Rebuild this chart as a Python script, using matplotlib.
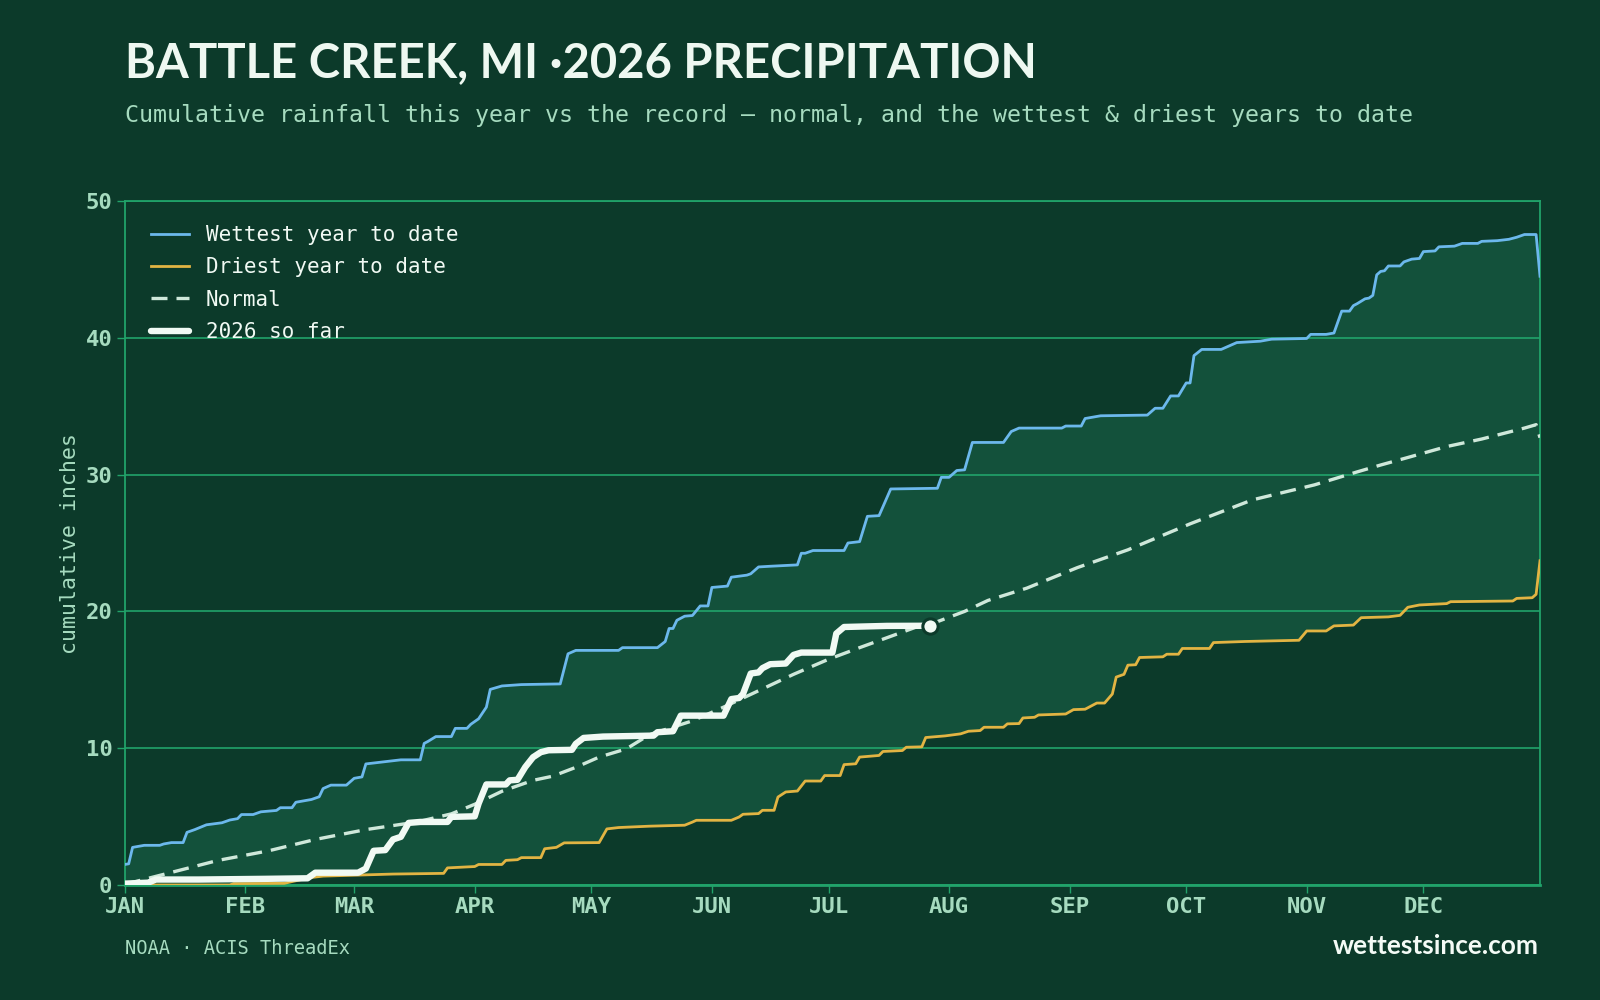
import numpy as np
import matplotlib
matplotlib.use("Agg")
import matplotlib.pyplot as plt

# ---------------- data (day-of-year index, cumulative inches) ----------------
month_labels = ["JAN", "FEB", "MAR", "APR", "MAY", "JUN", "JUL", "AUG", "SEP", "OCT", "NOV", "DEC"]
month_starts = [0, 31, 59, 90, 120, 151, 181, 212, 243, 273, 304, 334]
y_ticks = [0, 10, 20, 30, 40, 50]

wettest_days = [0, 1, 2, 5, 9, 10, 12, 15, 16, 18, 21, 25, 27, 29, 30, 33, 35, 39, 40, 43,
                44, 48, 50, 51, 53, 57, 59, 61, 62, 65, 68, 71, 76, 77, 78, 80, 84, 85, 88, 89,
                91, 93, 94, 97, 102, 112, 114, 116, 127, 128, 137, 139, 140, 141, 142, 144, 146, 148, 150, 151,
                155, 156, 160, 161, 163, 166, 173, 174, 175, 177, 185, 186, 189, 191, 194, 197, 209, 210, 212, 214,
                216, 218, 226, 228, 230, 241, 242, 246, 247, 251, 263, 265, 267, 269, 271, 273, 274, 275, 277, 282,
                286, 292, 295, 304, 305, 309, 311, 313, 315, 316, 317, 319, 320, 321, 322, 323, 324, 325, 328, 329,
                331, 333, 334, 337, 338, 342, 344, 348, 349, 353, 356, 358, 360, 363, 364]
wettest_vals = [1.5, 1.55, 2.75, 2.9, 2.9, 3.0, 3.1, 3.1, 3.85, 4.05, 4.4, 4.55, 4.75, 4.85, 5.15, 5.15, 5.35, 5.45, 5.65, 5.65,
                6.05, 6.25, 6.45, 7.05, 7.3, 7.3, 7.8, 7.9, 8.85, 8.95, 9.05, 9.15, 9.15, 10.35, 10.5, 10.85, 10.85, 11.45, 11.45, 11.75,
                12.15, 13.0, 14.3, 14.55, 14.65, 14.7, 16.9, 17.15, 17.15, 17.35, 17.35, 17.8, 18.75, 18.75, 19.35, 19.65, 19.7, 20.4, 20.4, 21.75,
                21.85, 22.5, 22.65, 22.75, 23.25, 23.3, 23.4, 24.25, 24.25, 24.45, 24.45, 25.0, 25.1, 26.95, 27.0, 28.95, 29.0, 29.8, 29.8, 30.3,
                30.35, 32.35, 32.35, 33.15, 33.4, 33.4, 33.55, 33.55, 34.1, 34.3, 34.35, 34.85, 34.85, 35.75, 35.75, 36.7, 36.7, 38.7, 39.15, 39.15,
                39.65, 39.75, 39.9, 39.95, 40.25, 40.25, 40.35, 41.95, 41.95, 42.35, 42.5, 42.85, 42.9, 43.1, 44.6, 44.85, 44.9, 45.25, 45.25, 45.55,
                45.75, 45.8, 46.3, 46.35, 46.65, 46.7, 46.9, 46.9, 47.05, 47.1, 47.2, 47.35, 47.55, 47.55, 44.5]

driest_days = [0, 27, 28, 41, 43, 48, 51, 69, 82, 83, 90, 91, 97, 98, 101, 102, 107, 108, 111, 113,
               122, 124, 127, 135, 144, 146, 147, 156, 158, 159, 163, 164, 167, 168, 170, 173, 175, 179, 180, 184,
               185, 188, 189, 194, 195, 200, 201, 205, 206, 211, 215, 217, 220, 221, 226, 227, 230, 231, 234, 235,
               242, 244, 247, 250, 252, 254, 255, 257, 258, 260, 261, 267, 268, 271, 272, 279, 280, 288, 302, 304,
               309, 311, 316, 318, 325, 328, 330, 333, 340, 341, 357, 358, 362, 363, 364]
driest_vals = [0.0, 0.0, 0.1, 0.12, 0.25, 0.55, 0.65, 0.8, 0.85, 1.25, 1.35, 1.5, 1.5, 1.8, 1.85, 2.0, 2.0, 2.65, 2.75, 3.08,
               3.1, 4.1, 4.2, 4.3, 4.37, 4.6, 4.73, 4.73, 4.97, 5.17, 5.22, 5.46, 5.46, 6.43, 6.8, 6.87, 7.6, 7.6, 8.0, 8.0,
               8.8, 8.86, 9.35, 9.47, 9.76, 9.83, 10.07, 10.1, 10.78, 10.9, 11.05, 11.24, 11.29, 11.53, 11.53, 11.78, 11.8, 12.21, 12.26, 12.43,
               12.5, 12.82, 12.85, 13.3, 13.3, 13.96, 15.2, 15.4, 16.07, 16.1, 16.63, 16.68, 16.87, 16.87, 17.29, 17.29, 17.72, 17.8, 17.89, 18.57,
               18.57, 18.94, 19.0, 19.54, 19.6, 19.71, 20.3, 20.47, 20.57, 20.71, 20.76, 20.95, 21.0, 21.25, 23.7]

normal_days = [0, 11, 24, 37, 49, 62, 75, 84, 90, 97, 105, 110, 116, 122, 129, 135, 146, 154, 163, 172,
               181, 189, 204, 209, 216, 222, 232, 245, 258, 274, 290, 306, 317, 323, 330, 340, 349, 360, 363, 364]
normal_vals = [0.05, 0.85, 1.8, 2.5, 3.33, 4.05, 4.6, 5.2, 5.9, 6.85, 7.65, 7.95, 8.6, 9.35, 9.95, 11.0, 12.0, 13.0, 14.2, 15.4,
               16.5, 17.35, 18.9, 19.25, 20.0, 20.8, 21.7, 23.2, 24.5, 26.4, 28.15, 29.25, 30.2, 30.7, 31.25, 32.05, 32.6, 33.4, 33.65, 32.7]

current_days = [0, 6, 8, 19, 36, 47, 49, 60, 62, 64, 67, 69, 71, 73, 76, 83, 84, 90, 91, 93,
                98, 99, 101, 103, 105, 107, 109, 115, 116, 118, 123, 136, 137, 141, 143, 154, 156, 158, 159, 161,
                163, 164, 166, 170, 172, 174, 182, 183, 185, 196, 207]
current_vals = [0.1, 0.17, 0.4, 0.4, 0.45, 0.49, 0.9, 0.9, 1.2, 2.5, 2.55, 3.33, 3.52, 4.54, 4.61, 4.61, 4.98, 5.02, 5.95, 7.35,
                7.35, 7.65, 7.69, 8.62, 9.34, 9.71, 9.85, 9.88, 10.32, 10.75, 10.85, 10.92, 11.17, 11.24, 12.38, 12.38, 13.59, 13.67, 13.96, 15.46,
                15.54, 15.85, 16.14, 16.19, 16.82, 16.99, 16.99, 18.38, 18.86, 18.94, 18.95]

# ---------------- styling ----------------
BG = "#0c3a2a"
FILL = "#13513b"
GRID = "#21a36a"
MINT = "#a6dbbf"
WET = "#6cb8ec"
DRY = "#e2b443"
NORMAL = "#cfe8da"
WHITE = "#f1faf4"
MONO = "DejaVu Sans Mono"
SANS = ["Lato", "DejaVu Sans"]

fig = plt.figure(figsize=(16, 10), dpi=100, facecolor=BG)
ax = fig.add_axes([0.078, 0.115, 0.9625 - 0.078, 0.799 - 0.115], facecolor=BG)

ax.fill(np.concatenate([wettest_days, driest_days[::-1]]),
        np.concatenate([wettest_vals, driest_vals[::-1]]),
        color=FILL, lw=0, zorder=0.2)

ax.plot(wettest_days, wettest_vals, color=WET, lw=2.0, zorder=3, label="Wettest year to date",
        solid_joinstyle="round")
ax.plot(driest_days, driest_vals, color=DRY, lw=2.0, zorder=3, label="Driest year to date",
        solid_joinstyle="round")
ax.plot(normal_days, normal_vals, color=NORMAL, lw=2.4, dashes=(4.8, 2.7), zorder=3, label="Normal")
ax.plot(current_days, current_vals, color=WHITE, lw=4.6, zorder=4, label="2026 so far",
        solid_joinstyle="round", solid_capstyle="round")
ax.plot(current_days[-1:], current_vals[-1:], "o", ms=11, mfc=WHITE, mec=BG, mew=2.2, zorder=5)

ax.set_xlim(0, 364)
ax.set_ylim(0, 50)
ax.set_xticks(month_starts)
ax.set_xticklabels(month_labels)
ax.set_yticks(y_ticks)
ax.set_axisbelow(True)
ax.grid(axis="y", color=GRID, lw=1.2)
ax.grid(axis="x", visible=False)
for s in ax.spines.values():
    s.set_color(GRID)
    s.set_linewidth(1.3)
ax.spines["bottom"].set_linewidth(2.0)
ax.tick_params(axis="both", colors=GRID, length=6, width=1.0, labelcolor=MINT, labelsize=16)
for lab in ax.get_xticklabels() + ax.get_yticklabels():
    lab.set_fontfamily(MONO)
    lab.set_fontweight("bold")
ax.tick_params(axis="x", pad=2.5)
ax.tick_params(axis="y", pad=3)

ax.set_ylabel("cumulative inches", family=MONO, color=MINT, fontsize=15.5, labelpad=4)

leg = ax.legend(loc="upper left", bbox_to_anchor=(0.011, 0.98), frameon=False,
                prop={"family": MONO, "size": 15}, labelcolor=WHITE,
                handlelength=1.85, handletextpad=0.8, labelspacing=0.59, borderpad=0.0)

fig.text(0.078, 0.923, "BATTLE CREEK, MI \u00b72026 PRECIPITATION", family=SANS, weight="bold",
         fontsize=34, color="#eef8f1", ha="left", va="baseline")
fig.text(0.078, 0.878, "Cumulative rainfall this year vs the record \u2014 normal, and the wettest & driest years to date",
         family=MONO, fontsize=16.75, color=MINT, ha="left", va="baseline")
fig.text(0.078, 0.046, "NOAA \u00b7 ACIS ThreadEx", family=MONO, fontsize=13.5, color=MINT,
         ha="left", va="baseline")
fig.text(0.9615, 0.046, "wettestsince.com", family=SANS, weight="bold", fontsize=18.9, color="#f4fbf6",
         ha="right", va="baseline")

fig.savefig("out.png", dpi=100, facecolor=BG)
